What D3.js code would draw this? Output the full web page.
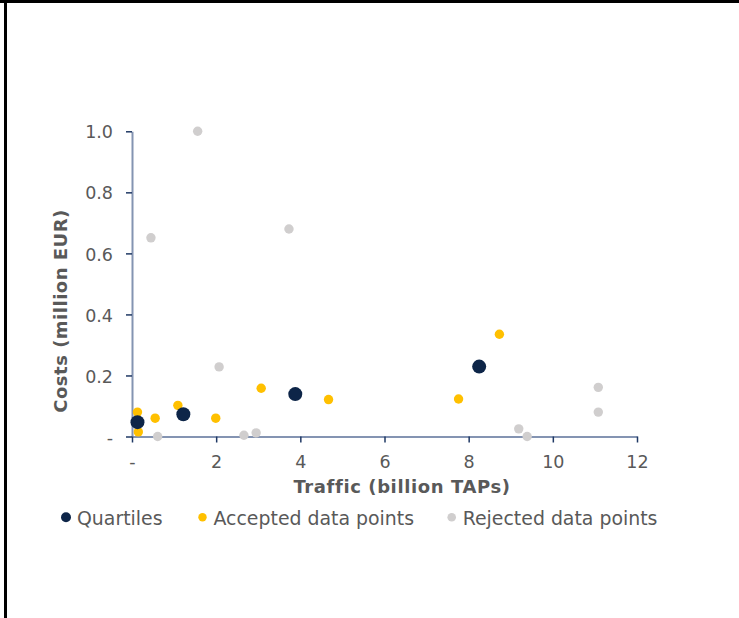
<!DOCTYPE html>
<html>
<head>
<meta charset="utf-8">
<script src="https://cdn.jsdelivr.net/npm/d3@7/dist/d3.min.js"></script>
<style>
  html, body { margin: 0; padding: 0; background: #fff; }
  svg { display: block; }
</style>
</head>
<body>
<script>
// data: [traffic (billion TAPs), costs (million EUR)]
var quartiles = [[0.13, 0.047], [1.22, 0.073], [3.88, 0.139], [8.25, 0.229]];
var accepted = [[0.13, 0.080], [0.15, 0.015], [0.55, 0.060], [1.09, 0.102], [1.99, 0.060],
                [3.07, 0.158], [4.67, 0.121], [7.76, 0.123], [8.73, 0.335]];
var rejected = [[1.56, 1.0], [0.45, 0.651], [3.73, 0.680], [2.07, 0.228], [0.61, 0.0],
                [2.66, 0.004], [2.95, 0.012], [9.19, 0.025], [9.39, 0.0], [11.08, 0.161], [11.08, 0.080]];
var xTicks = [0, 2, 4, 6, 8, 10, 12];
var yTicks = [0, 0.2, 0.4, 0.6, 0.8, 1.0];
var seriesNames = ["Quartiles", "Accepted data points", "Rejected data points"];

var width = 739, height = 618;
var navy = "#0d2548", gold = "#ffc000", grey = "#d0cece";
var textCol = "#595959";

var svg = d3.select("body").append("svg")
    .attr("width", width)
    .attr("height", height);

// frame lines (top + left)
svg.append("line").attr("x1", 0).attr("x2", width).attr("y1", 1.5).attr("y2", 1.5)
    .attr("stroke", "#000").attr("stroke-width", 3);
svg.append("line").attr("x1", 5.5).attr("x2", 5.5).attr("y1", 0).attr("y2", height)
    .attr("stroke", "#000").attr("stroke-width", 3);

var x = d3.scaleLinear().domain([0, 12]).range([132, 637]);
var y = d3.scaleLinear().domain([0, 1]).range([436.5, 131.3]);

var fmtY = function (d) { return d === 0 ? "-" : d3.format(".1f")(d); };
var fmtX = function (d) { return d === 0 ? "-" : d; };

var gy = svg.append("g")
    .attr("transform", "translate(" + x(0) + ",0)")
    .call(d3.axisLeft(y).tickValues(yTicks).tickFormat(fmtY).tickSize(6).tickSizeOuter(0).tickPadding(13));
var gx = svg.append("g")
    .attr("transform", "translate(0," + y(0) + ")")
    .call(d3.axisBottom(x).tickValues(xTicks).tickFormat(fmtX).tickSize(6).tickSizeOuter(0).tickPadding(14));

[gx, gy].forEach(function (g) {
    g.select(".domain").attr("stroke", "#8494b2").attr("stroke-width", 2);
    g.selectAll(".tick line").attr("stroke", "#1f3864").attr("stroke-width", 1.5);
    g.selectAll(".tick text")
        .attr("fill", textCol)
        .style("font-family", "'DejaVu Sans', Verdana, sans-serif")
        .style("font-size", "17.5px");
});
gy.selectAll(".tick text").attr("dy", "0.38em");
gx.selectAll(".tick text").attr("dy", "0.68em");

// axis titles
svg.append("text")
    .attr("x", 402).attr("y", 493)
    .attr("text-anchor", "middle")
    .attr("fill", textCol)
    .style("font-family", "'DejaVu Sans', Verdana, sans-serif")
    .style("font-size", "18px").style("font-weight", "bold").style("letter-spacing", "0.6px")
    .text("Traffic (billion TAPs)");
svg.append("text")
    .attr("transform", "translate(67,311) rotate(-90)")
    .attr("text-anchor", "middle")
    .attr("fill", textCol)
    .style("font-family", "'DejaVu Sans', Verdana, sans-serif")
    .style("font-size", "18px").style("font-weight", "bold").style("letter-spacing", "0.5px")
    .text("Costs (million EUR)");

// points
var series = [
    { data: rejected, color: grey, r: 4.7 },
    { data: accepted, color: gold, r: 4.7 },
    { data: quartiles, color: navy, r: 7 }
];
series.forEach(function (s) {
    svg.append("g").selectAll("circle").data(s.data).enter().append("circle")
        .attr("cx", function (d) { return x(d[0]); })
        .attr("cy", function (d) { return y(d[1]); })
        .attr("r", s.r)
        .attr("fill", s.color);
});

// legend
var legendX = [66, 202.5, 451.7];
var legendCol = [navy, gold, grey];
var legendR = [5, 4.2, 4.3];
var lg = svg.append("g").selectAll("g").data(seriesNames).enter().append("g")
    .attr("transform", function (d, i) { return "translate(" + legendX[i] + ",517.3)"; });
lg.append("circle")
    .attr("r", function (d, i) { return legendR[i]; })
    .attr("fill", function (d, i) { return legendCol[i]; });
lg.append("text")
    .attr("x", 11).attr("y", 7.7)
    .attr("fill", textCol)
    .style("font-family", "'DejaVu Sans', Verdana, sans-serif")
    .style("font-size", "18.9px")
    .text(function (d) { return d; });
</script>
</body>
</html>
